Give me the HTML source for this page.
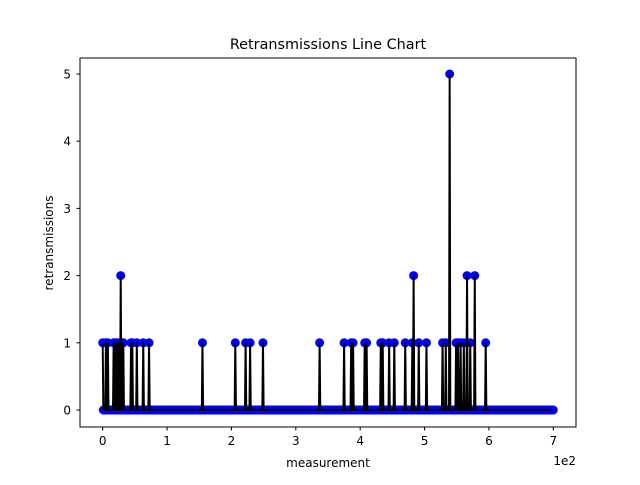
<!DOCTYPE html>
<html><head><meta charset="utf-8"><style>
body{margin:0;background:#fff;}
svg text{font-family:"DejaVu Sans","Liberation Sans",sans-serif;fill:#000;}
</style></head><body>
<svg id="chart" width="640" height="480" viewBox="0 0 640 480" xmlns="http://www.w3.org/2000/svg">
<rect width="640" height="480" fill="#fff"/>
<text x="328" y="49" font-size="14.4" text-anchor="middle">Retransmissions Line Chart</text>
<g id="marks"></g>
<rect x="80" y="58" width="496" height="369" fill="none" stroke="#000" stroke-width="1"/>
<g id="axes"></g>
<text x="328" y="467" font-size="12" text-anchor="middle">measurement</text>
<text x="0" y="0" font-size="12" text-anchor="middle" transform="translate(53,243) rotate(-90)">retransmissions</text>
<text x="576" y="465" font-size="12" text-anchor="end">1e2</text>
</svg>
<script>
const pointCount = 701;
const spikeIndex = [0,5,8,17,19,22,25,28,30,32,44,46,53,63,72,155,206,222,229,249,337,375,386,389,407,410,432,435,445,453,470,481,483,491,503,528,533,539,549,552,556,561,566,571,578,595];
const spikeValue = [1,1,1,1,1,1,1,2,1,1,1,1,1,1,1,1,1,1,1,1,1,1,1,1,1,1,1,1,1,1,1,1,2,1,1,1,1,5,1,1,1,1,2,1,2,1];
const xTicks = [0,1,2,3,4,5,6,7];
const yTicks = [0,1,2,3,4,5];

const values = new Array(pointCount).fill(0);
spikeIndex.forEach((ix,k)=>{values[ix]=spikeValue[k];});

const NS="http://www.w3.org/2000/svg";
const xs = v => 102.7 + v*0.6437;
const ys = v => 410 - v*67.2;
const marks=document.getElementById('marks');
const axes=document.getElementById('axes');

values.forEach((v,i)=>{
  const c=document.createElementNS(NS,'circle');
  c.setAttribute('cx',xs(i));c.setAttribute('cy',ys(v));c.setAttribute('r',4.5);
  c.setAttribute('fill','#0000ff');
  
  
  marks.appendChild(c);
});
const p=document.createElementNS(NS,'polyline');
p.setAttribute('points',values.map((v,i)=>xs(i).toFixed(2)+','+ys(v).toFixed(2)).join(' '));
p.setAttribute('fill','none');p.setAttribute('stroke','#000');p.setAttribute('stroke-width','2');


marks.appendChild(p);

xTicks.forEach(t=>{
  const x=xs(t*100);
  const l=document.createElementNS(NS,'line');
  l.setAttribute('x1',x);l.setAttribute('x2',x);l.setAttribute('y1',427);l.setAttribute('y2',430.5);l.setAttribute('stroke','#000');
  
  
  axes.appendChild(l);
  const tx=document.createElementNS(NS,'text');
  tx.setAttribute('x',x);tx.setAttribute('y',445);tx.setAttribute('font-size','12');tx.setAttribute('text-anchor','middle');
  tx.textContent=t;
  
  
  axes.appendChild(tx);
});
yTicks.forEach(t=>{
  const y=ys(t);
  const l=document.createElementNS(NS,'line');
  l.setAttribute('x1',76.5);l.setAttribute('x2',80);l.setAttribute('y1',y);l.setAttribute('y2',y);l.setAttribute('stroke','#000');
  
  
  axes.appendChild(l);
  const tx=document.createElementNS(NS,'text');
  tx.setAttribute('x',71);tx.setAttribute('y',y+4.5);tx.setAttribute('font-size','12');tx.setAttribute('text-anchor','end');
  tx.textContent=t;
  
  
  axes.appendChild(tx);
});
</script>
</body></html>
